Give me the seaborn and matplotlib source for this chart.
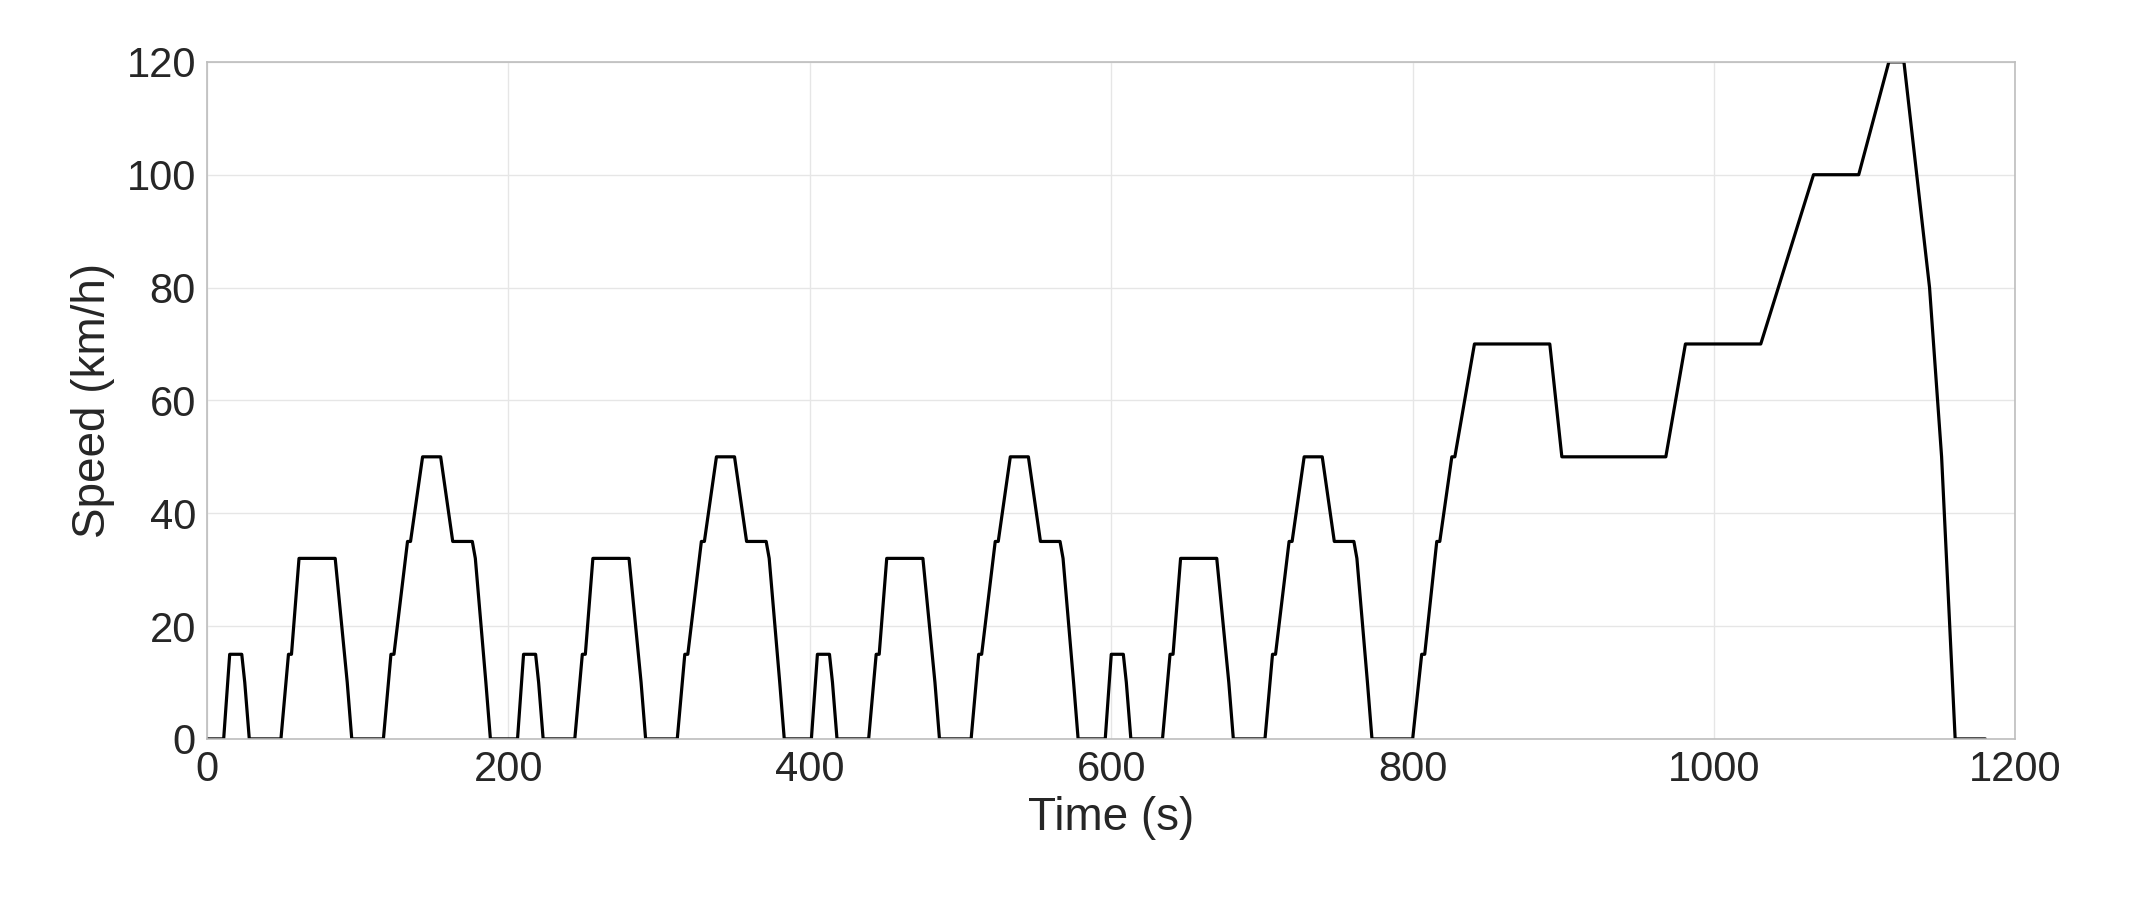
import numpy as np
import matplotlib
matplotlib.use("Agg")
import matplotlib.pyplot as plt
import seaborn as sns
import pandas as pd

# ECE-15 urban cycle breakpoints (time s, speed km/h), repeated 4 times
ece_t = [0, 11, 15, 23, 25, 28, 49, 54, 56, 61, 85, 93, 96, 117, 122, 124, 133, 135, 143, 155, 163, 176, 178, 185, 188, 195]
ece_v = [0, 0, 15, 15, 10, 0, 0, 15, 15, 32, 32, 10, 0, 0, 15, 15, 35, 35, 50, 50, 35, 35, 32, 10, 0, 0]
# EUDC extra-urban breakpoints
eudc_t = [780, 800, 806, 808, 816, 818, 826, 828, 841, 891, 899, 968, 981, 1031, 1066, 1096, 1116, 1126, 1143, 1151, 1160, 1180]
eudc_v = [0, 0, 15, 15, 35, 35, 50, 50, 70, 70, 50, 50, 70, 70, 100, 100, 120, 120, 80, 50, 0, 0]

times, speeds = [], []
for k in range(4):
    times += [t + 195 * k for t in ece_t]
    speeds += ece_v
times += eudc_t
speeds += eudc_v
df = pd.DataFrame({"Time (s)": times, "Speed (km/h)": speeds})

sns.set_theme(style="whitegrid")
plt.rcParams['font.family'] = ['Liberation Sans', 'DejaVu Sans']
fig = plt.figure(figsize=(21.35, 9.1), dpi=100)
ax = fig.add_axes([0.097, 0.188, 0.847, 0.744])
sns.lineplot(data=df, x="Time (s)", y="Speed (km/h)", ax=ax, color="black", lw=2.3, sort=False)
ax.set_xlim(0, 1200)
ax.set_ylim(0, 120)
ax.set_xticks(range(0, 1201, 200))
ax.set_yticks(range(0, 121, 20))
ax.tick_params(labelsize=30, colors="#262626", length=0, pad=8)
ax.set_xlabel("Time (s)", fontsize=33, color="#262626", labelpad=4)
ax.set_ylabel("Speed (km/h)", fontsize=33, color="#262626", labelpad=8)
ax.grid(color="#e6e6e6", lw=1)
for s in ax.spines.values():
    s.set_color("#bdbdbd")
    s.set_linewidth(1.2)
fig.savefig("out.png", dpi=100, facecolor="white")
